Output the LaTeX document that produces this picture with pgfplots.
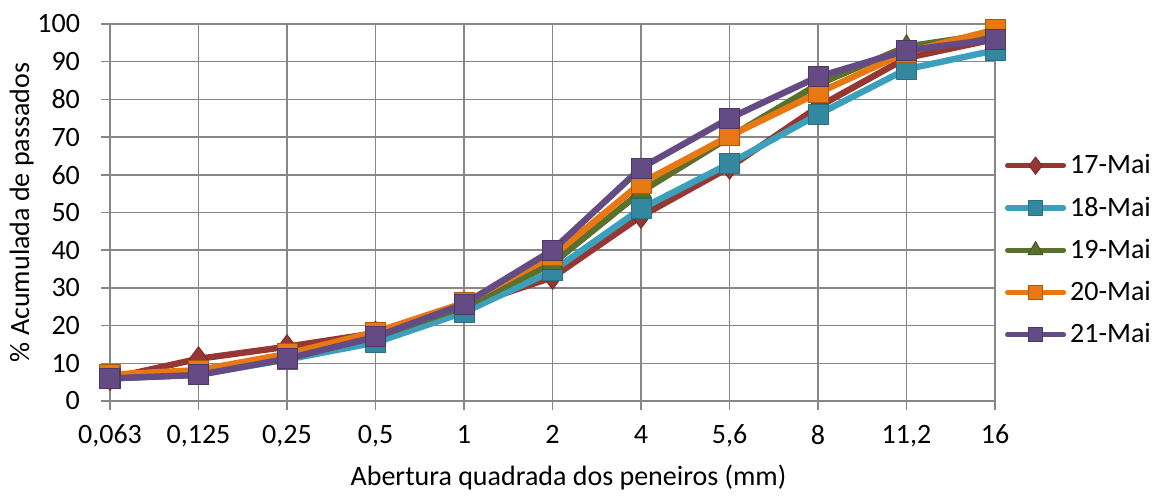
\documentclass[border=0pt]{standalone}
\usepackage{pgfplots}
\pgfplotsset{compat=1.18}
\usepackage{fontspec}
\setmainfont{Carlito}
\usetikzlibrary{calc}
\definecolor{cred}{RGB}{150,55,52}
\definecolor{ccyan}{RGB}{60,160,188}
\definecolor{cgreen}{RGB}{90,112,45}
\definecolor{corange}{RGB}{232,120,18}
\definecolor{cpurple}{RGB}{100,75,132}
\definecolor{cgrid}{RGB}{135,135,135}
\begin{document}
\begin{tikzpicture}
\begin{axis}[
  scale only axis,
  width=442.5pt, height=188.5pt,
  xmin=0, xmax=10, ymin=0, ymax=100,
  xtick={0,...,10},
  xticklabels={{0,063},{0,125},{0,25},{0,5},1,2,4,{5,6},8,{11,2},16},
  ytick={0,10,...,100},
  grid=major,
  grid style={cgrid, line width=0.75pt},
  axis line style={cgrid, line width=0.75pt},
  axis x line*=bottom, axis y line*=left,
  tick style={cgrid, line width=0.75pt},
  tick align=outside,
  major tick length=4.5pt,
  font=\fontsize{14pt}{16pt}\selectfont,
  /pgf/number format/assume math mode=true,
  xticklabel style={yshift=-4pt},
  yticklabel style={xshift=-7pt},
  xlabel={Abertura quadrada dos peneiros (mm)},
  ylabel={\% Acumulada de passados},
  xlabel style={yshift=-2pt, xshift=8pt},
  ylabel style={yshift=-5pt},
  legend style={at={(1.004,0.40)}, anchor=west, draw=none, fill=none,
    font=\fontsize{14pt}{16pt}\selectfont, row sep=6pt,
    /tikz/every odd column/.style={inner xsep=0pt}},
  legend cell align=left,
  legend image code/.code={
    \draw[#1, line width=2.6pt, mark size=0.72*\pgfplotmarksize, mark repeat=2, mark phase=2] plot coordinates {(0pt,0pt) (14pt,0pt) (28pt,0pt)};
  },
  every axis plot/.append style={line width=3.2pt, line cap=round, line join=round},
]
\addplot[cred, mark=diamond*, mark size=6pt, mark options={solid, fill=cred, draw=cred!80!black, line width=0.5pt}]
  coordinates {(0,6) (1,11.2) (2,14.4) (3,18) (4,25) (5,32.8) (6,49) (7,62) (8,78) (9,91) (10,96)};
\addlegendentry{17-Mai}
\addplot[ccyan, mark=square*, mark size=5pt, mark options={solid, fill=ccyan!85!black, draw=ccyan!70!black, line width=0.5pt}]
  coordinates {(0,6) (1,7) (2,11) (3,15.5) (4,23.5) (5,34.5) (6,51) (7,63) (8,76) (9,88) (10,93)};
\addlegendentry{18-Mai}
\addplot[cgreen, mark=triangle*, mark size=6pt, mark options={solid, fill=cgreen, draw=cgreen!80!black, line width=0.5pt}]
  coordinates {(0,6) (1,7) (2,11.5) (3,17) (4,25) (5,36.5) (6,55.5) (7,70) (8,84) (9,94) (10,97.5)};
\addlegendentry{19-Mai}
\addplot[corange, mark=square*, mark size=5pt, mark options={solid, fill=corange, draw=corange!75!black, line width=0.5pt}]
  coordinates {(0,7) (1,8.2) (2,12.5) (3,18.3) (4,26) (5,38.5) (6,57.8) (7,70.3) (8,81.7) (9,92.5) (10,98.5)};
\addlegendentry{20-Mai}
\addplot[cpurple, mark=square*, mark size=5pt, mark options={solid, fill=cpurple, draw=cpurple!75!black, line width=0.5pt}]
  coordinates {(0,6) (1,6.9) (2,11.2) (3,17) (4,25.7) (5,40) (6,61.8) (7,75) (8,86) (9,93) (10,96)};
\addlegendentry{21-Mai}
\path (rel axis cs:0,0) coordinate (O);
\path (rel axis cs:1,1) coordinate (P);
\end{axis}
\pgfresetboundingbox
\path ($(O)+(-55pt,-48pt)$) rectangle ($(P)+(79.5pt,12pt)$);
\end{tikzpicture}
\end{document}
